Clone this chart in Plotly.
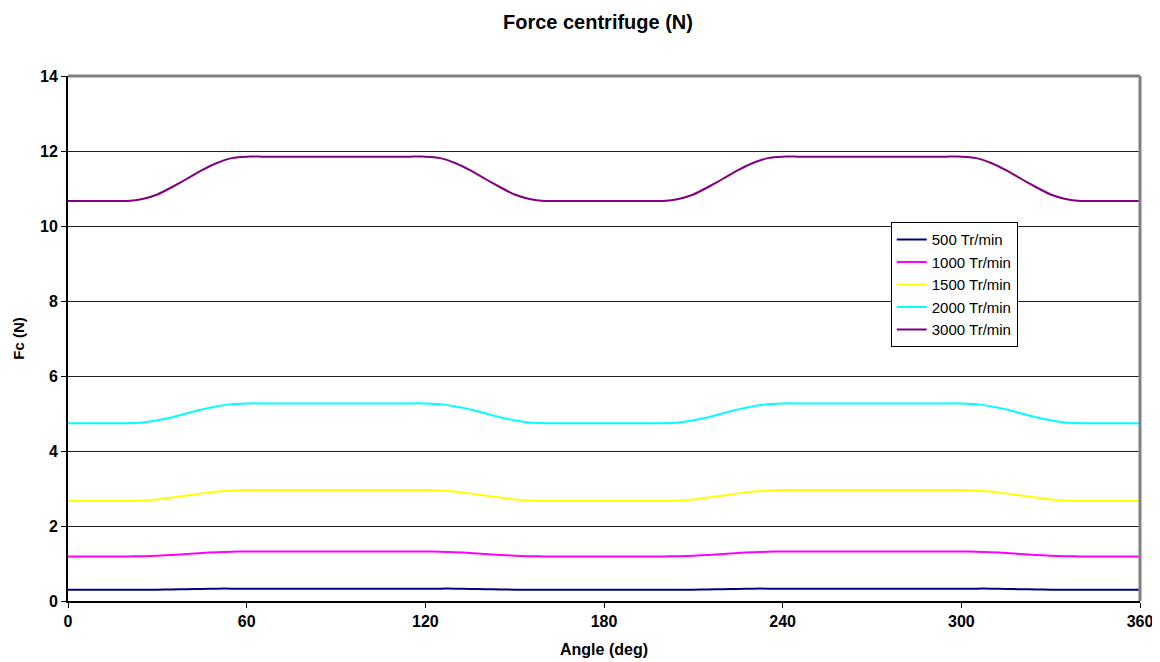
import plotly.graph_objects as go

angles = [0, 5, 10, 15, 20, 25, 30, 35, 40, 45, 50, 55, 60, 65, 70, 75, 80, 85, 90,
          95, 100, 105, 110, 115, 120, 125, 130, 135, 140, 145, 150, 155, 160, 165,
          170, 175, 180, 185, 190, 195, 200, 205, 210, 215, 220, 225, 230, 235, 240,
          245, 250, 255, 260, 265, 270, 275, 280, 285, 290, 295, 300, 305, 310, 315,
          320, 325, 330, 335, 340, 345, 350, 355, 360]

fc_500 = [0.30, 0.30, 0.30, 0.30, 0.30,
          0.30, 0.30, 0.31, 0.315, 0.32, 0.33, 0.33,
          0.33, 0.33, 0.33, 0.33, 0.33, 0.33, 0.33, 0.33, 0.33, 0.33, 0.33, 0.33, 0.33,
          0.33, 0.33, 0.32, 0.315, 0.31, 0.30, 0.30,
          0.30, 0.30, 0.30, 0.30, 0.30, 0.30, 0.30, 0.30, 0.30,
          0.30, 0.30, 0.31, 0.315, 0.32, 0.33, 0.33,
          0.33, 0.33, 0.33, 0.33, 0.33, 0.33, 0.33, 0.33, 0.33, 0.33, 0.33, 0.33, 0.33,
          0.33, 0.33, 0.32, 0.315, 0.31, 0.30, 0.30,
          0.30, 0.30, 0.30, 0.30, 0.30]

fc_1000 = [1.19, 1.19, 1.19, 1.19, 1.19,
           1.195, 1.21, 1.23, 1.255, 1.28, 1.30, 1.315,
           1.32, 1.32, 1.32, 1.32, 1.32, 1.32, 1.32, 1.32, 1.32, 1.32, 1.32, 1.32, 1.32,
           1.315, 1.30, 1.28, 1.255, 1.23, 1.21, 1.195,
           1.19, 1.19, 1.19, 1.19, 1.19, 1.19, 1.19, 1.19, 1.19,
           1.195, 1.21, 1.23, 1.255, 1.28, 1.30, 1.315,
           1.32, 1.32, 1.32, 1.32, 1.32, 1.32, 1.32, 1.32, 1.32, 1.32, 1.32, 1.32, 1.32,
           1.315, 1.30, 1.28, 1.255, 1.23, 1.21, 1.195,
           1.19, 1.19, 1.19, 1.19, 1.19]

fc_1500 = [2.67, 2.67, 2.67, 2.67, 2.67,
           2.68, 2.71, 2.76, 2.815, 2.87, 2.92, 2.95,
           2.96, 2.96, 2.96, 2.96, 2.96, 2.96, 2.96, 2.96, 2.96, 2.96, 2.96, 2.96, 2.96,
           2.95, 2.92, 2.87, 2.815, 2.76, 2.71, 2.68,
           2.67, 2.67, 2.67, 2.67, 2.67, 2.67, 2.67, 2.67, 2.67,
           2.68, 2.71, 2.76, 2.815, 2.87, 2.92, 2.95,
           2.96, 2.96, 2.96, 2.96, 2.96, 2.96, 2.96, 2.96, 2.96, 2.96, 2.96, 2.96, 2.96,
           2.95, 2.92, 2.87, 2.815, 2.76, 2.71, 2.68,
           2.67, 2.67, 2.67, 2.67, 2.67]

fc_2000 = [4.74, 4.74, 4.74, 4.74, 4.74,
           4.76, 4.82, 4.90, 5.005, 5.11, 5.19, 5.25,
           5.27, 5.27, 5.27, 5.27, 5.27, 5.27, 5.27, 5.27, 5.27, 5.27, 5.27, 5.27, 5.27,
           5.25, 5.19, 5.11, 5.005, 4.90, 4.82, 4.76,
           4.74, 4.74, 4.74, 4.74, 4.74, 4.74, 4.74, 4.74, 4.74,
           4.76, 4.82, 4.90, 5.005, 5.11, 5.19, 5.25,
           5.27, 5.27, 5.27, 5.27, 5.27, 5.27, 5.27, 5.27, 5.27, 5.27, 5.27, 5.27, 5.27,
           5.25, 5.19, 5.11, 5.005, 4.90, 4.82, 4.76,
           4.74, 4.74, 4.74, 4.74, 4.74]

fc_3000 = [10.67, 10.67, 10.67, 10.67, 10.67,
           10.72, 10.84, 11.04, 11.26, 11.49, 11.68, 11.81,
           11.85, 11.85, 11.85, 11.85, 11.85, 11.85, 11.85, 11.85, 11.85, 11.85, 11.85, 11.85, 11.85,
           11.81, 11.68, 11.49, 11.26, 11.04, 10.84, 10.72,
           10.67, 10.67, 10.67, 10.67, 10.67, 10.67, 10.67, 10.67, 10.67,
           10.72, 10.84, 11.04, 11.26, 11.49, 11.68, 11.81,
           11.85, 11.85, 11.85, 11.85, 11.85, 11.85, 11.85, 11.85, 11.85, 11.85, 11.85, 11.85, 11.85,
           11.81, 11.68, 11.49, 11.26, 11.04, 10.84, 10.72,
           10.67, 10.67, 10.67, 10.67, 10.67]

series_names = ["500 Tr/min", "1000 Tr/min", "1500 Tr/min", "2000 Tr/min", "3000 Tr/min"]
series_values = [fc_500, fc_1000, fc_1500, fc_2000, fc_3000]
series_colors = ["#000080", "#FF00FF", "#FFFF00", "#00FFFF", "#800080"]

x_ticks = [0, 60, 120, 180, 240, 300, 360]
y_ticks = [0, 2, 4, 6, 8, 10, 12, 14]

FONT = "Liberation Sans, Arial, sans-serif"

fig = go.Figure()
for name, vals, col in zip(series_names, series_values, series_colors):
    fig.add_trace(go.Scatter(x=angles, y=vals, mode="lines", name=name,
                             line=dict(color=col, width=2, shape="spline", smoothing=0.3)))

fig.update_layout(
    width=1160, height=662,
    paper_bgcolor="white", plot_bgcolor="white",
    margin=dict(l=60, r=28, t=68, b=69, autoexpand=False),
    title=dict(text="<b>Force centrifuge (N)</b>", x=0.5086, xanchor="center",
               y=0.979, yanchor="middle",
               font=dict(family=FONT, size=20, color="black")),
    font=dict(family=FONT, color="black"),
    legend=dict(x=0.7675, y=0.7215, xanchor="left", yanchor="top",
                bgcolor="white", bordercolor="black", borderwidth=1,
                font=dict(family=FONT, size=15, color="black"),
                itemwidth=30, tracegroupgap=0),
    showlegend=True,
)

fig.update_xaxes(range=[0, 360], tickvals=x_ticks, ticktext=[f"<b>{v}</b>" for v in x_ticks],
                 showgrid=False, zeroline=False, automargin=False,
                 showline=True, linecolor="black", linewidth=2,
                 ticks="outside", ticklen=5, tickcolor="black", tickwidth=1,
                 tickfont=dict(family=FONT, size=16, color="black"),
                 title=dict(text="<b>Angle (deg)</b>", font=dict(family=FONT, size=16, color="black"),
                            standoff=15))
fig.update_yaxes(range=[0, 14], tickvals=y_ticks, ticktext=[f"<b>{v}</b>" for v in y_ticks],
                 showgrid=True, gridcolor="#222222", gridwidth=1, zeroline=False, automargin=False,
                 showline=True, linecolor="black", linewidth=2,
                 ticks="outside", ticklen=5, tickcolor="black", tickwidth=1,
                 tickfont=dict(family=FONT, size=16, color="black"),
                 title=dict(text="<b>Fc (N)</b>", font=dict(family=FONT, size=15, color="black"),
                            standoff=12))

# grey top/right frame (Excel-style plot area border)
fig.add_shape(type="line", xref="paper", yref="paper", x0=0, x1=1, y0=1, y1=1,
              line=dict(color="#808080", width=3))
fig.add_shape(type="line", xref="paper", yref="paper", x0=1, x1=1, y0=0, y1=1,
              line=dict(color="#808080", width=3))

fig.write_html("out.html")
